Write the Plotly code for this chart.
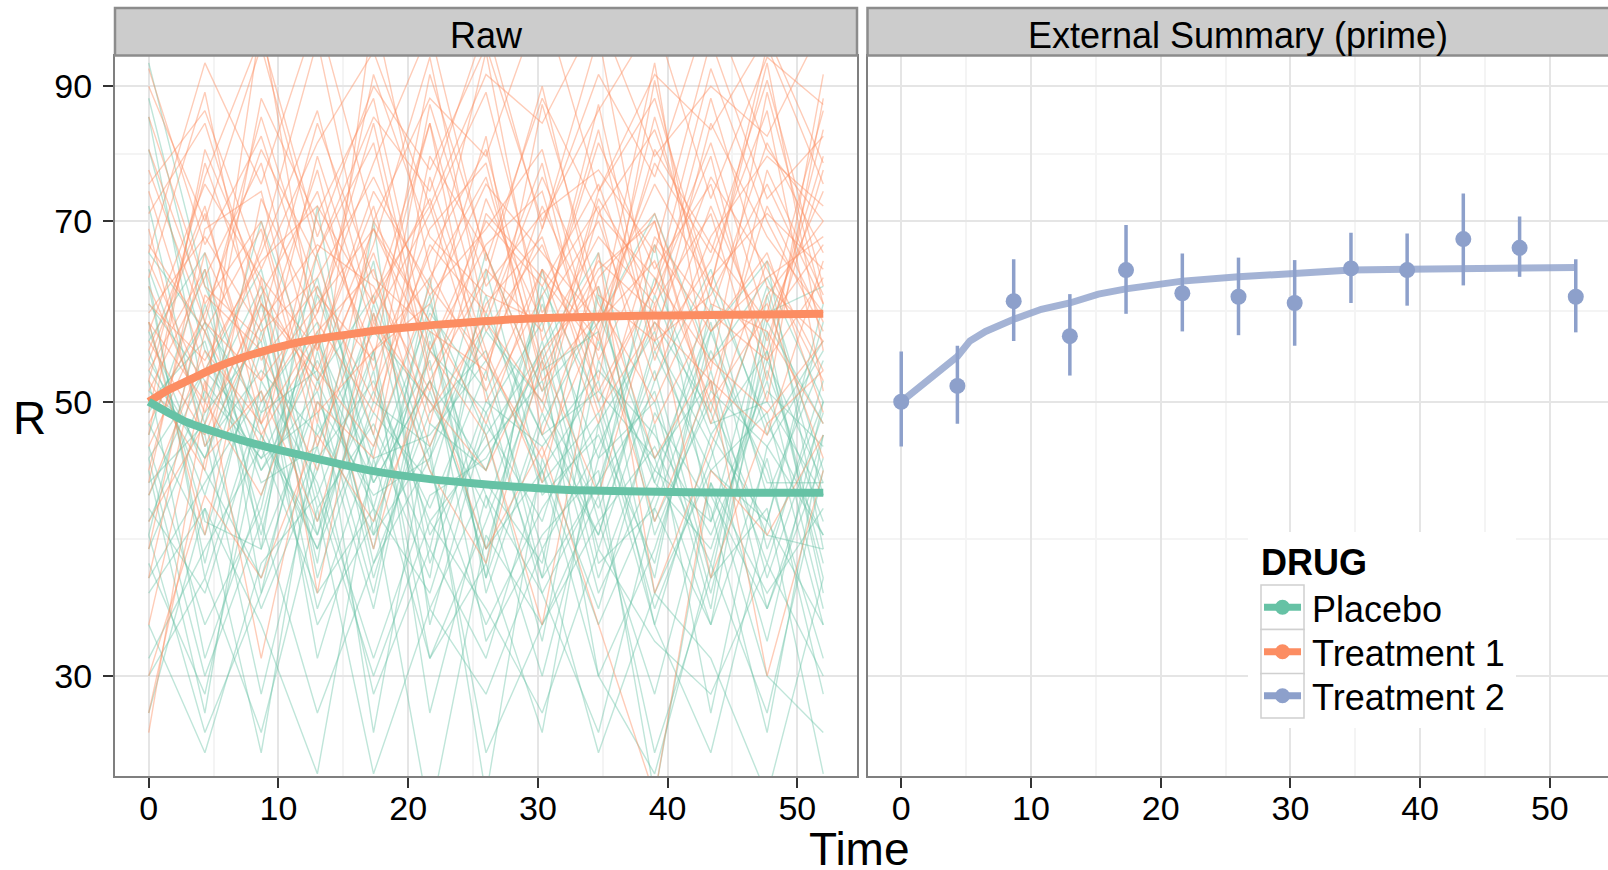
import math
import plotly.graph_objects as go

W, H = 1608, 870
FONT = "Liberation Sans, Arial, sans-serif"

# ---------------- data ----------------
time_pts = [0, 4.33, 8.67, 13, 17.33, 21.67, 26, 30.33, 34.67, 39, 43.33, 47.67, 52]

placebo_raw = [
    [48, 39, 55, 34, 46, 61, 38, 44, 52, 33, 47, 40, 58],
    [57, 44, 36, 52, 41, 35, 49, 58, 40, 46, 37, 55, 36],
    [42, 53, 47, 39, 60, 44, 33, 41, 48, 57, 42, 34, 45],
    [63, 36, 50, 58, 37, 49, 55, 36, 62, 39, 51, 46, 39],
    [51, 47, 29, 45, 52, 40, 46, 52, 35, 44, 58, 38, 50],
    [39, 60, 44, 51, 35, 56, 42, 30, 45, 50, 34, 61, 42],
    [85, 50, 62, 41, 48, 38, 59, 47, 39, 55, 44, 49, 33],
    [46, 33, 41, 66, 43, 52, 37, 62, 50, 36, 60, 42, 54],
    [54, 45, 58, 37, 70, 33, 48, 40, 56, 43, 38, 53, 40],
    [35, 41, 26, 48, 39, 46, 24, 45, 34, 49, 41, 27, 47],
    [60, 52, 45, 56, 44, 59, 51, 35, 43, 61, 47, 55, 37],
    [44, 28, 52, 43, 31, 42, 45, 54, 30, 38, 53, 36, 49],
    [50, 56, 39, 62, 47, 36, 64, 43, 49, 34, 45, 62, 44],
    [31, 38, 46, 35, 41, 23, 39, 33, 42, 26, 36, 41, 25],
    [72, 46, 53, 47, 57, 50, 41, 56, 38, 52, 64, 47, 56],
    [47, 64, 35, 55, 38, 63, 35, 48, 59, 45, 33, 57, 35],
    [55, 42, 60, 40, 51, 41, 53, 38, 46, 58, 49, 37, 52],
    [41, 35, 49, 53, 27, 48, 44, 61, 37, 41, 55, 44, 31],
    [66, 57, 43, 46, 65, 37, 50, 46, 53, 47, 39, 51, 46],
    [38, 49, 56, 31, 44, 54, 32, 39, 44, 24, 43, 35, 41],
    [58, 40, 38, 50, 42, 45, 57, 50, 41, 53, 36, 58, 48],
    [45, 53, 64, 42, 55, 34, 43, 37, 61, 40, 50, 39, 38],
    [52, 31, 42, 57, 36, 51, 38, 55, 36, 48, 28, 46, 55],
    [94, 62, 48, 38, 49, 43, 61, 42, 47, 37, 57, 43, 43],
    [43, 48, 34, 44, 59, 39, 47, 32, 54, 44, 40, 52, 34],
    [36, 43, 51, 33, 40, 57, 36, 49, 39, 56, 46, 32, 50],
    [49, 58, 40, 61, 45, 47, 54, 44, 33, 42, 62, 48, 39],
    [62, 37, 57, 39, 53, 31, 40, 53, 57, 35, 44, 40, 60],
    [40, 51, 45, 49, 34, 55, 49, 36, 43, 51, 35, 54, 43],
    [33, 26, 37, 42, 30, 40, 34, 28, 38, 32, 29, 37, 30],
    [53, 45, 61, 36, 50, 46, 58, 47, 51, 45, 52, 34, 47],
    [80, 55, 44, 54, 43, 52, 44, 60, 45, 63, 48, 50, 42],
    [37, 29, 47, 38, 55, 28, 42, 35, 27, 41, 33, 45, 29],
    [56, 66, 38, 72, 39, 58, 36, 64, 42, 67, 40, 59, 62],
    [30, 36, 27, 41, 25, 34, 29, 38, 26, 35, 31, 24, 36],
    [45, 30, 40, 28, 37, 45, 26, 33, 40, 29, 43, 30, 27],
    [28, 41, 33, 25, 45, 31, 37, 27, 48, 33, 26, 40, 33],
    [64, 48, 70, 52, 61, 45, 66, 51, 58, 71, 54, 63, 50],
    [39, 27, 35, 46, 29, 38, 31, 44, 30, 25, 37, 28, 44],
    [88, 58, 49, 63, 41, 60, 47, 55, 66, 43, 57, 65, 38],
]

treat1_raw = [
    [55, 72, 48, 66, 81, 52, 63, 90, 58, 70, 49, 77, 61],
    [46, 58, 85, 61, 54, 92, 66, 51, 74, 88, 62, 55, 83],
    [62, 49, 67, 98, 60, 73, 54, 69, 99, 57, 76, 64, 52],
    [38, 61, 55, 44, 70, 58, 82, 47, 63, 71, 53, 89, 60],
    [71, 84, 60, 52, 66, 48, 71, 63, 55, 80, 67, 58, 74],
    [52, 44, 73, 58, 49, 67, 59, 78, 50, 62, 93, 70, 57],
    [44, 66, 52, 79, 57, 84, 50, 61, 72, 48, 59, 81, 66],
    [58, 50, 102, 55, 74, 62, 96, 56, 68, 60, 71, 50, 88],
    [67, 57, 46, 71, 88, 55, 67, 74, 52, 91, 57, 66, 49],
    [33, 52, 31, 50, 45, 76, 55, 43, 66, 35, 46, 61, 70],
    [49, 78, 58, 67, 62, 51, 73, 58, 81, 64, 75, 54, 63],
    [80, 60, 70, 48, 104, 64, 52, 87, 61, 56, 84, 68, 59],
    [56, 47, 61, 74, 53, 69, 78, 52, 59, 75, 62, 94, 55],
    [42, 55, 48, 57, 64, 46, 60, 68, 49, 58, 52, 47, 65],
    [63, 89, 54, 62, 50, 87, 62, 71, 77, 66, 98, 73, 82],
    [51, 63, 78, 53, 69, 58, 48, 64, 56, 85, 60, 57, 48],
    [74, 53, 66, 86, 58, 71, 89, 59, 70, 52, 68, 79, 72],
    [28, 45, 51, 40, 58, 50, 44, 55, 62, 45, 54, 49, 56],
    [59, 68, 57, 63, 76, 61, 69, 80, 54, 67, 57, 63, 68],
    [47, 80, 62, 51, 67, 95, 58, 50, 73, 61, 79, 52, 92],
    [65, 51, 88, 70, 55, 60, 75, 66, 58, 94, 51, 72, 58],
    [54, 71, 50, 59, 84, 53, 64, 57, 87, 55, 65, 86, 51],
    [36, 57, 69, 46, 61, 72, 51, 64, 48, 68, 59, 54, 77],
    [85, 62, 56, 77, 51, 66, 80, 54, 65, 59, 88, 62, 56],
    [57, 75, 63, 55, 72, 49, 58, 76, 60, 50, 63, 71, 64],
    [48, 59, 80, 65, 47, 79, 66, 49, 71, 63, 54, 60, 45],
    [69, 46, 58, 84, 63, 57, 53, 72, 57, 78, 66, 91, 62],
    [53, 64, 47, 56, 92, 68, 61, 58, 83, 54, 72, 56, 79],
    [43, 69, 74, 49, 55, 63, 76, 53, 64, 70, 48, 65, 53],
    [60, 54, 65, 72, 60, 84, 57, 67, 51, 62, 81, 58, 67],
    [77, 58, 52, 60, 69, 55, 70, 62, 75, 56, 61, 75, 60],
    [40, 48, 60, 53, 46, 62, 54, 45, 58, 65, 50, 59, 86],
    [30, 42, 36, 47, 40, 52, 38, 46, 33, 24, 44, 39, 47],
    [90, 70, 97, 66, 85, 74, 101, 69, 92, 76, 105, 80, 70],
    [66, 94, 75, 103, 70, 88, 79, 106, 74, 92, 83, 99, 78],
    [52, 76, 99, 68, 90, 77, 97, 70, 86, 102, 73, 95, 87],
    [75, 86, 64, 81, 96, 72, 92, 84, 103, 79, 90, 82, 101],
    [58, 39, 63, 35, 59, 44, 37, 54, 42, 60, 36, 48, 53],
    [27, 50, 42, 56, 38, 55, 47, 33, 57, 40, 52, 30, 44],
    [93, 67, 82, 59, 78, 100, 65, 88, 71, 83, 62, 97, 75],
]

curve_t = [0, 1.5, 3, 5, 7, 9, 11, 13, 15, 17, 19, 22, 25, 28, 32, 38, 45, 52]
treat1_curve = [50, 51.1, 52.0, 53.2, 54.2, 55.0, 55.7, 56.2, 56.6, 57.0, 57.3, 57.7,
                58.0, 58.3, 58.5, 58.7, 58.8, 58.9]
placebo_curve = [50, 49.0, 48.1, 47.3, 46.6, 46.0, 45.45, 44.95, 44.45, 44.0, 43.65, 43.25,
                 42.95, 42.7, 42.45, 42.3, 42.2, 42.2]

t2_curve_t = [0, 2.17, 4.33, 5.3, 6.5, 8.67, 10.8, 13, 15.2, 17.33, 19.5, 21.67,
              26, 30.33, 34.67, 39, 43.33, 47.67, 52]
t2_curve = [50, 52.1, 54.4, 56.0, 57.0, 58.3, 59.4, 60.1, 61.1, 61.7, 62.1, 62.6,
            63.1, 63.5, 63.9, 64.0, 64.0, 64.2, 64.2]
t2_mean = [50.0, 51.5, 60.3, 56.5, 63.9, 61.2, 60.8, 60.1, 64.1, 63.9, 67.7, 66.6, 60.8]
t2_upper = [54.9, 55.5, 65.2, 61.1, 69.5, 65.9, 65.4, 65.1, 68.5, 68.4, 73.7, 70.6, 65.2]
t2_lower = [46.0, 48.0, 56.0, 52.5, 58.9, 57.0, 56.6, 55.5, 60.1, 59.8, 62.1, 63.1, 56.9]

drugs = ["Placebo", "Treatment 1", "Treatment 2"]
legend_title = "DRUG"
colors = {"Placebo": "#66C2A5", "Treatment 1": "#FC8D62", "Treatment 2": "#8DA0CB"}
thin_colors = {"Placebo": "rgba(102,194,165,0.42)", "Treatment 1": "rgba(252,141,98,0.45)"}

x_ticks = [0, 10, 20, 30, 40, 50]
x_minor = [5, 15, 25, 35, 45]
y_ticks = [30, 50, 70, 90]
y_minor = [38.73, 59.16, 79.37]

# ---------------- geometry (pixels) ----------------
def px(x):
    return x / W

def py(y):
    return 1 - y / H

L_X0, L_X1 = 115, 857
R_X0 = 867.5
P_TOP, P_BOT = 55.5, 776
S_TOP = 8
XR = [-2.6, 54.6]
ppu = (L_X1 - L_X0) / (XR[1] - XR[0])
XR2 = [-2.6, -2.6 + (W - R_X0) / ppu]
YR = [math.log10(24.9), math.log10(95.3)]

fig = go.Figure()

for name, data in (("Placebo", placebo_raw), ("Treatment 1", treat1_raw)):
    for subj in data:
        fig.add_trace(go.Scatter(x=time_pts, y=subj, mode="lines",
                                 line=dict(color=thin_colors[name], width=1.4),
                                 xaxis="x", yaxis="y", showlegend=False, hoverinfo="skip"))

fig.add_trace(go.Scatter(x=curve_t, y=treat1_curve, mode="lines", name="Treatment 1",
                         line=dict(color=colors["Treatment 1"], width=8, shape="spline", smoothing=0.6),
                         xaxis="x", yaxis="y", showlegend=False))
fig.add_trace(go.Scatter(x=curve_t, y=placebo_curve, mode="lines", name="Placebo",
                         line=dict(color=colors["Placebo"], width=8, shape="spline", smoothing=0.6),
                         xaxis="x", yaxis="y", showlegend=False))

# right panel
fig.add_trace(go.Scatter(x=t2_curve_t, y=t2_curve, mode="lines", name="Treatment 2",
                         line=dict(color="rgba(141,160,203,0.8)", width=7),
                         xaxis="x2", yaxis="y2", showlegend=False))
fig.add_trace(go.Scatter(
    x=time_pts, y=t2_mean, mode="markers", name="Treatment 2",
    marker=dict(color=colors["Treatment 2"], size=16),
    error_y=dict(type="data", symmetric=False,
                 array=[u - m for u, m in zip(t2_upper, t2_mean)],
                 arrayminus=[m - l for m, l in zip(t2_mean, t2_lower)],
                 color=colors["Treatment 2"], thickness=3.5, width=0),
    xaxis="x2", yaxis="y2", showlegend=False))

axis_common = dict(
    showgrid=True, gridcolor="#E5E5E5", gridwidth=2,
    zeroline=False, showline=True, linecolor="#7F7F7F", linewidth=2,
    ticklen=10, tickwidth=2, tickcolor="#333333",
    tickfont=dict(family=FONT, size=34, color="#000000"),
)
minor_common = dict(showgrid=True, gridcolor="#F4F4F4", gridwidth=1.5, ticks="")

fig.update_layout(
    width=W, height=H,
    margin=dict(l=0, r=0, t=0, b=0, pad=0),
    paper_bgcolor="white", plot_bgcolor="white",
    font=dict(family=FONT, color="#000000"),
    showlegend=False,
    xaxis=dict(domain=[px(L_X0), px(L_X1)], range=XR, anchor="y", tickvals=x_ticks,
               mirror=True, ticks="outside", ticklabelstandoff=-9,
               minor=dict(tickvals=x_minor, **minor_common), **axis_common),
    xaxis2=dict(domain=[px(R_X0), 1.0], range=XR2, anchor="y2", tickvals=x_ticks,
                mirror=True, ticks="outside", ticklabelstandoff=-9,
                minor=dict(tickvals=x_minor, **minor_common), **axis_common),
    yaxis=dict(domain=[py(P_BOT), py(P_TOP)], type="log", range=YR, anchor="x",
               tickvals=y_ticks, ticktext=[str(v) for v in y_ticks], mirror=True,
               ticks="outside", ticklabelstandoff=4,
               minor=dict(tickvals=y_minor, **minor_common), **axis_common),
    yaxis2=dict(domain=[py(P_BOT), py(P_TOP)], type="log", range=YR, anchor="x2",
                tickvals=y_ticks, showticklabels=False, mirror=False, ticks="",
                minor=dict(tickvals=y_minor, **minor_common), **axis_common),
)

shapes = []
# strips
for x0, x1 in ((L_X0, L_X1), (R_X0, W + 10)):
    shapes.append(dict(type="rect", xref="paper", yref="paper",
                       x0=px(x0), x1=px(x1), y0=py(P_TOP), y1=py(S_TOP),
                       fillcolor="#CCCCCC", line=dict(color="#8C8C8C", width=2.5), layer="above"))

# legend (drawn by hand to match ggplot guide)
LG_X0, LG_X1, LG_Y0, LG_Y1 = 1248, 1516, 532, 728
shapes.append(dict(type="rect", xref="paper", yref="paper",
                   x0=px(LG_X0), x1=px(LG_X1), y0=py(LG_Y1), y1=py(LG_Y0),
                   fillcolor="white", line=dict(width=0), layer="above"))
KEY_X0, KEY_X1 = 1261, 1304
key_tops = [585, 629.5, 673.5]
KEY_H = 44.5
annotations = []
for d, top in zip(drugs, key_tops):
    cy = top + KEY_H / 2
    cx = (KEY_X0 + KEY_X1) / 2
    shapes.append(dict(type="rect", xref="paper", yref="paper",
                       x0=px(KEY_X0), x1=px(KEY_X1), y0=py(top + KEY_H), y1=py(top),
                       fillcolor="white", line=dict(color="#D0D0D0", width=1.5), layer="above"))
    shapes.append(dict(type="line", xref="paper", yref="paper",
                       x0=px(KEY_X0 + 3), x1=px(KEY_X1 - 3), y0=py(cy), y1=py(cy),
                       line=dict(color=colors[d], width=7), layer="above"))
    shapes.append(dict(type="circle", xref="paper", yref="paper",
                       x0=px(cx - 7.5), x1=px(cx + 7.5), y0=py(cy + 7.5), y1=py(cy - 7.5),
                       fillcolor=colors[d], line=dict(width=0), layer="above"))
    annotations.append(dict(text=d, x=px(1310), y=py(cy + 2), xref="paper", yref="paper",
                            showarrow=False, xanchor="left", yanchor="middle",
                            font=dict(family=FONT, size=36, color="#000000")))
annotations.append(dict(text="<b>%s</b>" % legend_title, x=px(1259), y=py(562), xref="paper", yref="paper",
                        showarrow=False, xanchor="left", yanchor="middle",
                        font=dict(family=FONT, size=36, color="#000000")))
fig.update_layout(shapes=shapes)

annotations += [
    dict(text="Raw", x=px((L_X0 + L_X1) / 2), y=py(36), xref="paper", yref="paper",
         showarrow=False, font=dict(family=FONT, size=36, color="#000000"), xanchor="center", yanchor="middle"),
    dict(text="External Summary (prime)", x=px((R_X0 + W) / 2), y=py(36), xref="paper", yref="paper",
         showarrow=False, font=dict(family=FONT, size=36, color="#000000"), xanchor="center", yanchor="middle"),
    dict(text="Time", x=px(860), y=py(849), xref="paper", yref="paper",
         showarrow=False, font=dict(family=FONT, size=46, color="#000000"), xanchor="center", yanchor="middle"),
    dict(text="R", x=px(29), y=py(418), xref="paper", yref="paper",
         showarrow=False, font=dict(family=FONT, size=46, color="#000000"), xanchor="center", yanchor="middle"),
]
fig.update_layout(annotations=annotations)

fig.write_html("out.html")
